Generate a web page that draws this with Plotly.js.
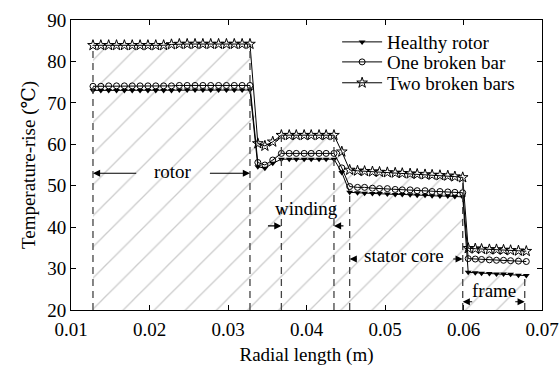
<!DOCTYPE html>
<html>
<head>
<meta charset="utf-8">
<script src="https://cdn.plot.ly/plotly-3.0.1.min.js"></script>
<style>
html,body{margin:0;padding:0;background:#fff;}
#chart{width:560px;height:369px;}
#chart svg text{font-family:"Liberation Serif","DejaVu Serif",serif !important;}
</style>
</head>
<body>
<div id="chart"></div>
<script>
// Radial positions (m)
const radialX = [
  0.0128,0.0138,0.0148,0.0158,0.0168,0.0178,0.0188,0.0198,0.0208,0.0218,0.0228,
  0.0238,0.0248,0.0258,0.0268,0.0278,0.0288,0.0298,0.0308,0.0318,0.0328,
  0.0338,0.0347,0.0357,
  0.0368,0.0378,0.0387,0.0397,0.0406,0.0416,0.0425,0.0435,
  0.0445,
  0.0455,0.0465,0.0474,0.0484,0.0493,0.0503,0.0513,0.0522,0.0532,0.0541,0.0551,0.0560,0.0570,0.0580,0.0589,0.0599,
  0.0606,0.0615,0.0623,0.0633,0.0642,0.0651,0.0660,0.0670,0.0680
];
// Temperature rise (°C)
const healthyRotor = [
  73.0,73.0,73.0,73.0,73.0,73.0,73.0,73.0,73.0,73.0,73.0,
  73.1,73.1,73.1,73.1,73.1,73.1,73.1,73.1,73.1,73.1,
  54.6,54.2,55.4,
  56.4,56.4,56.4,56.4,56.4,56.4,56.4,56.4,
  53.2,
  48.4,48.3,48.2,48.1,48.1,48.0,47.9,47.9,47.8,47.7,47.7,47.6,47.5,47.5,47.4,47.3,
  29.1,29.0,28.9,28.8,28.7,28.7,28.6,28.4,28.3
];
const oneBrokenBar = [
  74.0,74.0,74.1,74.1,74.1,74.1,74.1,74.1,74.1,74.1,74.1,
  74.2,74.2,74.2,74.2,74.2,74.2,74.2,74.2,74.2,74.2,
  55.6,55.0,56.2,
  57.8,57.8,57.8,57.8,57.8,57.8,57.8,57.8,
  54.3,
  49.8,49.6,49.6,49.4,49.3,49.3,49.1,49.0,49.0,48.8,48.8,48.6,48.6,48.5,48.4,48.3,
  32.4,32.3,32.2,32.1,32.0,32.0,31.9,31.8,31.7
];
const twoBrokenBars = [
  83.9,83.9,83.9,83.9,83.9,83.9,83.9,83.9,83.9,83.9,84.1,
  84.2,84.2,84.2,84.2,84.2,84.2,84.2,84.2,84.2,84.2,
  60.2,59.6,60.6,
  62.2,62.2,62.2,62.2,62.2,62.2,62.2,62.2,
  58.2,
  53.8,53.6,53.5,53.4,53.3,53.2,53.1,53.0,52.9,52.8,52.7,52.6,52.5,52.4,52.2,52.0,
  34.9,34.8,34.7,34.6,34.6,34.5,34.4,34.3,34.2
];
const seriesNames = ['Healthy rotor','One broken bar','Two broken bars'];
// Region boundaries (m) and the height the dashed line reaches (°C)
const boundaryX   = [0.0128, 0.0328, 0.0368, 0.0435, 0.0455, 0.0599, 0.0678];
const boundaryTop = [83.9,   84.2,   62.2,   62.2,   47.6,   52.0,   28.2];
// Region labels
const regionLabels = ['rotor','winding','stator core','frame'];
const xTicks = [0.01,0.02,0.03,0.04,0.05,0.06,0.07];
const yTicks = [20,30,40,50,60,70,80,90];

const FONT = 'Liberation Serif';
const TXT = {family:FONT, size:19, color:'#000'};

const lineStyle = {color:'#000', width:1};
const traces = [
  { // hatched area under curves
    x: radialX, y: twoBrokenBars, mode:'lines', line:{width:0, color:'rgba(0,0,0,0)'},
    fill:'tozeroy', fillcolor:'rgba(255,255,255,0)',
    fillpattern:{shape:'/', fgcolor:'#cccccc', bgcolor:'rgba(255,255,255,0)', size:22, solidity:0.06},
    showlegend:false, hoverinfo:'skip'
  },
  { x: radialX, y: healthyRotor, name: seriesNames[0], mode:'lines+markers', line:lineStyle,
    marker:{symbol:'triangle-down', size:6, color:'#000'}, legend:'legend' },
  { x: radialX, y: oneBrokenBar, name: seriesNames[1], mode:'lines+markers', line:lineStyle,
    marker:{symbol:'circle-open', size:6, color:'#000', line:{width:1}}, legend:'legend2' },
  { x: radialX, y: twoBrokenBars, name: seriesNames[2], mode:'lines+markers', line:lineStyle,
    marker:{symbol:'star-open', size:8, color:'#000', line:{width:1}}, legend:'legend3' }
];

const shapes = boundaryX.map((bx,i)=>({
  type:'line', xref:'x', yref:'y', x0:bx, x1:bx, y0:20, y1:boundaryTop[i],
  line:{color:'#444', width:1.3, dash:'7px,5px'}
}));

function arrow(xHead, yHead, xTail, yTail){
  return {x:xHead, y:yHead, ax:xTail, ay:yTail, xref:'x', yref:'y', axref:'x', ayref:'y',
    text:'', showarrow:true, arrowhead:2, arrowsize:1.3, arrowwidth:1.1, arrowcolor:'#000'};
}
function label(txt, x, y){
  return {x:x, y:y, xref:'x', yref:'y', text:txt, showarrow:false,
    font:TXT, xanchor:'center', yanchor:'middle'};
}
const annotations = [
  label(regionLabels[0], 0.0230, 53.4),
  arrow(boundaryX[0], 53.0, 0.0185, 53.0),
  arrow(boundaryX[1], 53.0, 0.0275, 53.0),
  label(regionLabels[1], 0.0400, 44.5),
  arrow(boundaryX[2], 40.3, 0.0349, 40.3),
  arrow(boundaryX[3], 40.3, 0.0449, 40.3),
  label(regionLabels[2], 0.0524, 33.2),
  arrow(boundaryX[4], 32.3, 0.0466, 32.3),
  arrow(boundaryX[5], 32.3, 0.0585, 32.3),
  label(regionLabels[3], 0.0639, 24.8),
  arrow(boundaryX[5], 22.0, 0.0613, 22.0),
  arrow(boundaryX[6], 22.0, 0.0664, 22.0)
];

const axisCommon = {
  showline:true, linecolor:'#000', linewidth:1, mirror:'ticks',
  ticks:'inside', ticklen:5, tickcolor:'#000', showgrid:false, zeroline:false,
  tickfont:TXT
};

function legendAt(y){
  return {x:0.565, y:y, xanchor:'left', yanchor:'middle', bgcolor:'rgba(0,0,0,0)',
    font:TXT, itemwidth:40};
}

const layout = {
  width:560, height:369,
  margin:{l:71, r:18, t:20, b:59},
  paper_bgcolor:'#fff', plot_bgcolor:'#fff',
  font:TXT,
  xaxis: Object.assign({}, axisCommon, {
    range:[0.01,0.07], tickvals:xTicks, ticktext:xTicks.map(v=>v.toFixed(2)),
    ticklabelstandoff:2,
    title:{text:'Radial length (m)', font:TXT, standoff:8}
  }),
  yaxis: Object.assign({}, axisCommon, {
    range:[20,90], tickvals:yTicks, ticktext:yTicks.map(String),
    title:{text:'Temperature-rise (℃)', font:TXT, standoff:6}
  }),
  legend: legendAt(0.924),
  legend2: legendAt(0.855),
  legend3: legendAt(0.783),
  shapes: shapes,
  annotations: annotations,
  showlegend:true
};

Plotly.newPlot('chart', traces, layout, {displayModeBar:false, staticPlot:true});
</script>
</body>
</html>
